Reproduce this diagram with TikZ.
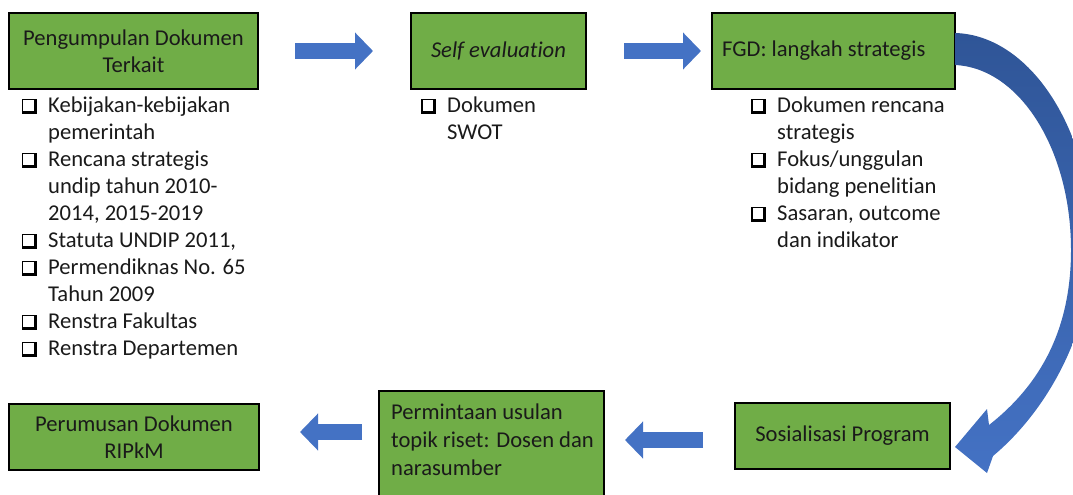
\documentclass[tikz,border=0pt]{standalone}
\usepackage{fontspec}
\setmainfont{Carlito}[Ligatures=NoCommon]
\usetikzlibrary{arrows.meta}
\definecolor{boxgreen}{HTML}{70AD47}
\definecolor{arrblue}{HTML}{4472C4}
\definecolor{darkblue}{HTML}{2F5597}
\definecolor{txt}{HTML}{1A1A1A}
\newcommand{\cbx}{\makebox[26pt][l]{\tikz[baseline=0pt]{\fill[black] (0pt,-2pt) rectangle (15pt,13pt); \fill[white] (1.3pt,1.3pt) rectangle (11.7pt,11.7pt);}}}
\newcommand{\ind}{\hspace*{26pt}}
\tikzset{
  greenbox/.style={draw=black, line width=1.5pt, fill=boxgreen, text=txt, align=center, inner sep=0pt},
  listtext/.style={anchor=north west, inner sep=0pt, align=left, text=txt},
  blockarrow/.style={line width=16pt, draw=arrblue, -{Triangle[width=36pt,length=18pt]}},
}
\begin{document}
\begin{tikzpicture}[x=1pt,y=-1pt, font=\fontsize{22.6}{27}\selectfont]
\useasboundingbox (0,0) rectangle (1073,495);
\begin{scope}
\clip (0,0) rectangle (1073,495);
% boxes
\node[greenbox, minimum width=249pt, minimum height=76pt] (b1) at (133.5,51) {Pengumpulan Dokumen\\Terkait};
\node[greenbox, minimum width=175pt, minimum height=76pt] (b2) at (498.5,51) {\itshape Self evaluation};
\node[greenbox, minimum width=243pt, minimum height=76pt] (b3) at (833.5,51) {};
\node[anchor=west, inner sep=0pt, text=txt] (b3t) at (722,51) {FGD: langkah strategis};
\node[greenbox, minimum width=215pt, minimum height=66pt] (b4) at (842.5,436) {Sosialisasi Program};
\node[greenbox, minimum width=225pt, minimum height=112pt] (b5) at (491.5,447) {};
\node[anchor=north west, inner sep=0pt, align=left, text=txt] (b5t) at (391,400) {\strut Permintaan usulan\\[1pt]topik riset: Dosen dan\\[1pt]narasumber};
\node[greenbox, minimum width=250pt, minimum height=66pt] (b6) at (134,437) {Perumusan Dokumen\\RIPkM};

% lists
\node[listtext] (l1) at (22,93) {\strut\cbx Kebijakan-kebijakan\\\ind pemerintah\\\cbx Rencana strategis\\\ind undip tahun 2010-\\\ind 2014, 2015-2019\\\cbx Statuta UNDIP 2011,\\\cbx Permendiknas No. 65\\\ind Tahun 2009\\\cbx Renstra Fakultas\\\cbx Renstra Departemen};
\node[listtext] (l2) at (421,93) {\strut\cbx Dokumen\\\ind SWOT};
\node[listtext] (l3) at (751,93) {\strut\cbx Dokumen rencana\\\ind strategis\\\cbx Fokus/unggulan\\\ind bidang penelitian\\\cbx Sasaran, outcome\\\ind dan indikator};

% straight block arrows
\coordinate (a1s) at (295,51); \coordinate (a1e) at (373,51);
\coordinate (a2s) at (624,51); \coordinate (a2e) at (701,51);
\coordinate (a3s) at (703,440); \coordinate (a3e) at (625,440);
\coordinate (a4s) at (362,432); \coordinate (a4e) at (300,432);
\draw[blockarrow] (a1s) -- (a1e);
\draw[blockarrow] (a2s) -- (a2e);
\draw[blockarrow] (a3s) -- (a3e);
\draw[blockarrow] (a4s) -- (a4e);

% curved arrow from FGD to Sosialisasi
\shade[top color=darkblue, bottom color=arrblue]
  (955,33) .. controls (1030,35) and (1092,130) .. (1092,245)
  .. controls (1092,330) and (1048,410) .. (993,456)
  -- (987,473) -- (955,447) -- (987,409) -- (989,425)
  .. controls (1040,385) and (1071,330) .. (1071,250)
  .. controls (1071,150) and (1020,68) .. (955,65) -- cycle;
\end{scope}
\end{tikzpicture}
\end{document}
